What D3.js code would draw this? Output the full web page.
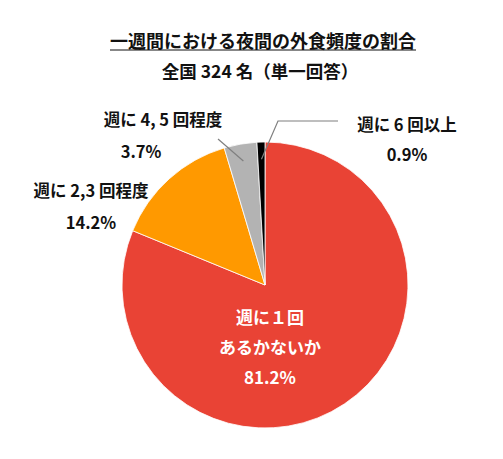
<!DOCTYPE html>
<html>
<head>
<meta charset="utf-8">
<script src="https://cdn.jsdelivr.net/npm/d3@7"></script>
<style>
  body { margin: 0; background: #fff; }
  svg text { font-family: "Noto Sans CJK JP", "Noto Sans", sans-serif; font-weight: bold; }
</style>
</head>
<body>
<svg id="chart" width="503" height="459"></svg>
<script>
'use strict'

const categories = ['週に１回あるかないか', '週に 2,3 回程度', '週に 4, 5 回程度', '週に 6 回以上']
const values = [81.2, 14.2, 3.7, 0.9]
const colors = ['#E94335', '#FF9900', '#B3B3B3', '#000000']
const labelLines = [
    ['週に１回', 'あるかないか', '81.2%'],
    ['週に 2,3 回程度', '14.2%'],
    ['週に 4, 5 回程度', '3.7%'],
    ['週に 6 回以上', '0.9%']
]

const svg = d3.select('#chart')
const cx = 265
const cy = 285
const r = 143

// title
svg.append('text')
    .attr('x', 263).attr('y', 48)
    .attr('text-anchor', 'middle')
    .attr('font-size', 18)
    .attr('fill', '#111')
    .text('一週間における夜間の外食頻度の割合')
svg.append('line')
    .attr('x1', 110).attr('x2', 416)
    .attr('y1', 50).attr('y2', 50)
    .attr('stroke', '#111').attr('stroke-width', 1.2)
svg.append('text')
    .attr('x', 260).attr('y', 78)
    .attr('text-anchor', 'middle')
    .attr('font-size', 17.5)
    .attr('fill', '#111')
    .text('全国 324 名（単一回答）')

const pie = d3.pie().sort(null).value(d => d)
const arc = d3.arc().innerRadius(0).outerRadius(r)
const arcs = pie(values)

const g = svg.append('g').attr('transform', `translate(${cx},${cy})`)
g.selectAll('path')
    .data(arcs)
    .join('path')
    .attr('d', arc)
    .attr('fill', (d, i) => colors[i])
    .attr('stroke', '#fff')
    .attr('stroke-width', 0.8)

// leader lines
const outer = d3.arc().innerRadius(r * 0.88).outerRadius(r * 0.88)
const p2 = outer.centroid(arcs[2])
g.append('polyline')
    .attr('points', [[-47, -146], p2].map(p => p.join(',')).join(' '))
    .attr('fill', 'none').attr('stroke', '#7f7f7f').attr('stroke-width', 1.2)
const p3 = outer.centroid(arcs[3])
g.append('polyline')
    .attr('points', [[73, -164], [13, -164], p3].map(p => p.join(',')).join(' '))
    .attr('fill', 'none').attr('stroke', '#7f7f7f').attr('stroke-width', 1.2)

// labels
const labelPos = [
    { x: 5, y: 39, size: 17, gap: 30, color: '#fff' },
    { x: -174, y: -88, size: 16.5, gap: 32, color: '#111' },
    { x: -102, y: -159, size: 16.5, gap: 32, color: '#111' },
    { x: 142, y: -154, size: 16.5, gap: 30, color: '#111' }
]
labelPos.forEach((p, i) => {
    const t = g.append('text')
        .attr('text-anchor', 'middle')
        .attr('font-size', p.size)
        .attr('fill', p.color)
    labelLines[i].forEach((s, j) => {
        t.append('tspan')
            .attr('x', j > 0 && i === 2 ? p.x - 22 : p.x)
            .attr('y', p.y + j * p.gap)
            .text(s)
    })
})
</script>
</body>
</html>
